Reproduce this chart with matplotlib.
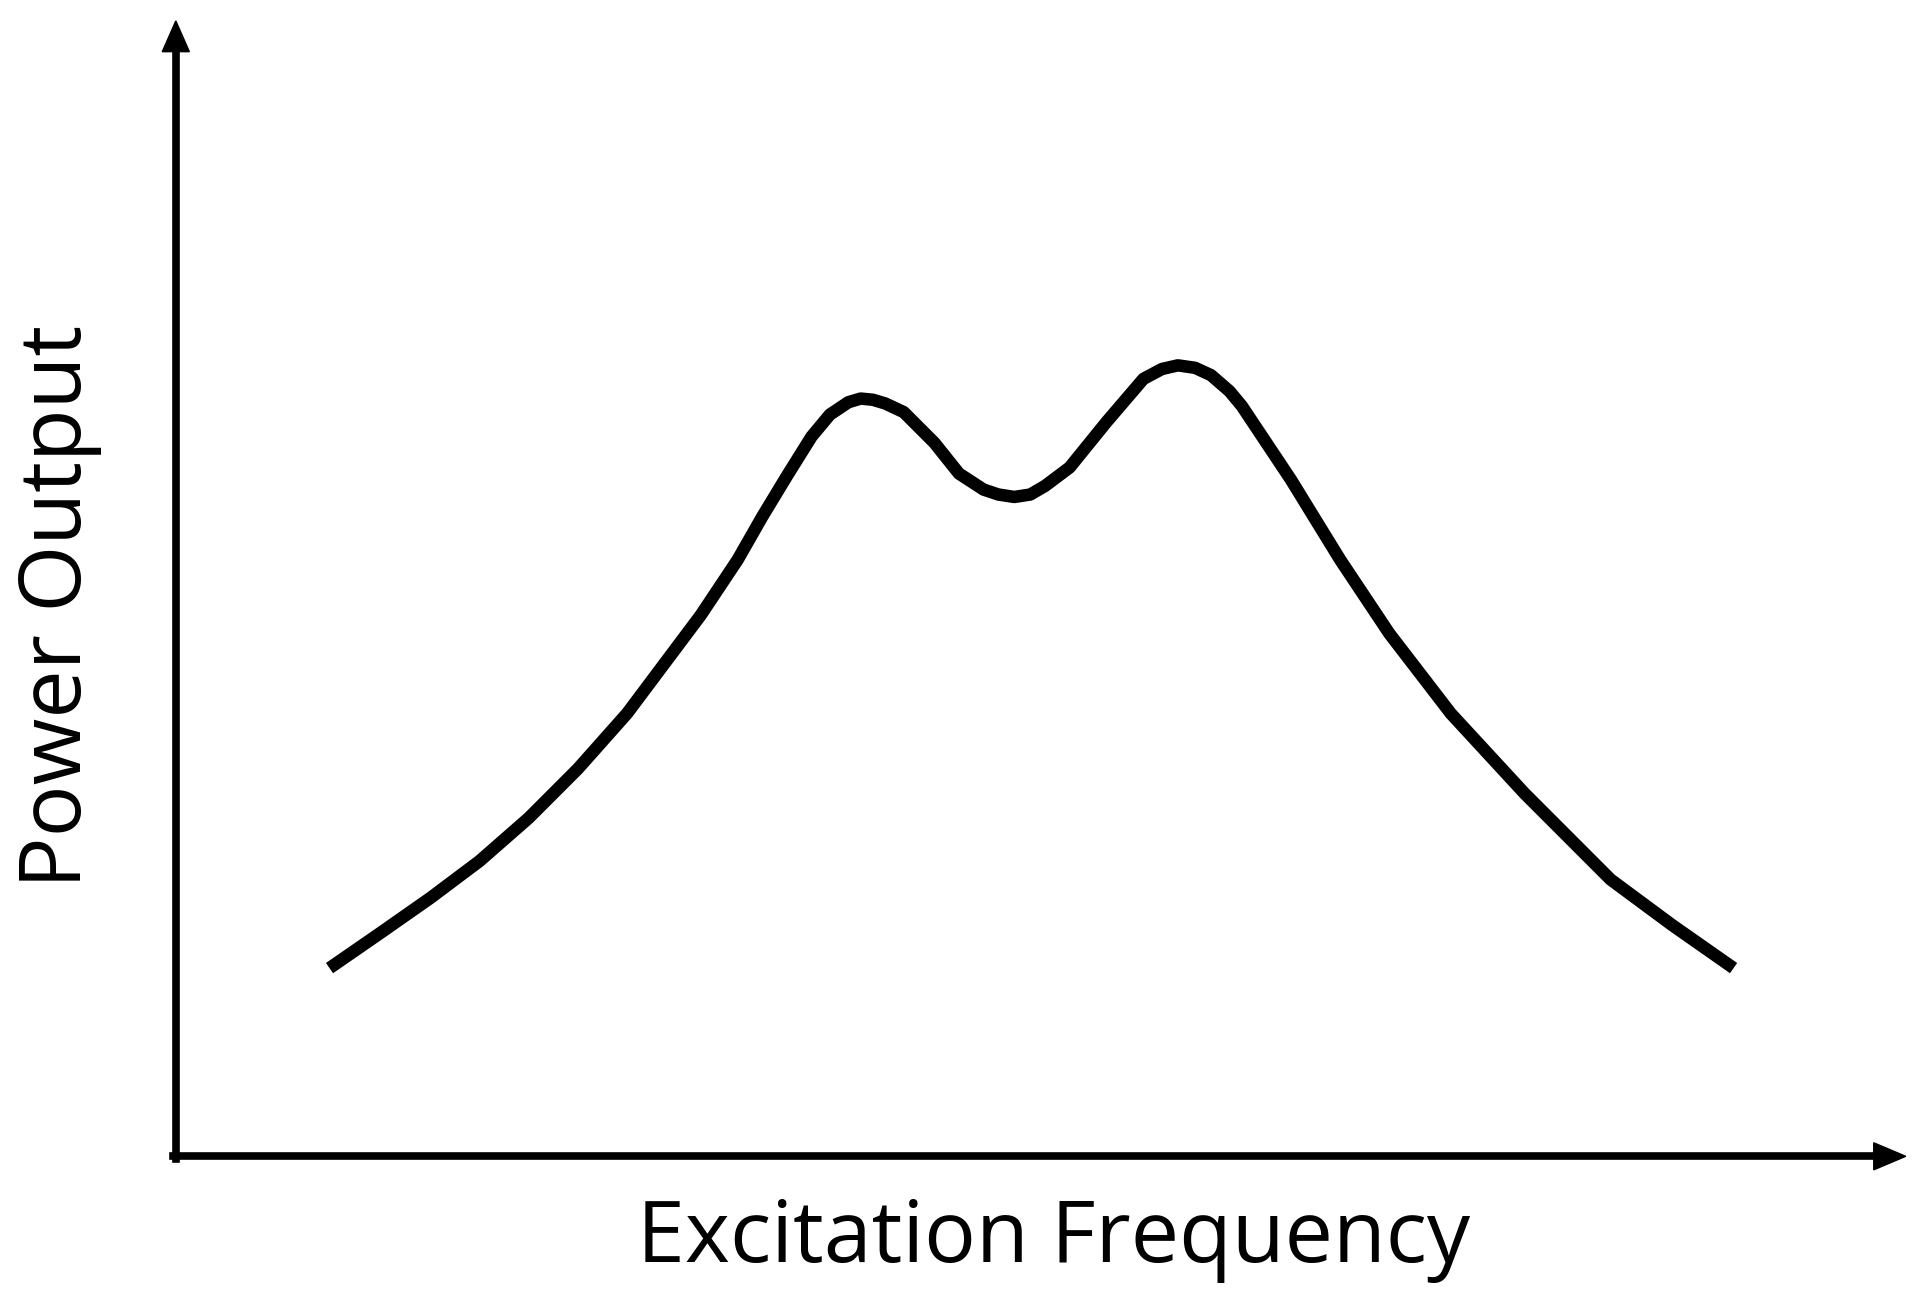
import matplotlib
matplotlib.use("Agg")
import matplotlib.pyplot as plt

# curve samples (frequency, power) in reference layout units
freq = [268, 310, 350, 390, 430, 470, 510, 540, 570, 600, 620, 640, 660, 675, 690, 700, 710,
        720, 735, 760, 780, 800, 812, 825, 838, 850, 870, 900, 930, 945, 958, 972, 985,
        1000, 1010, 1050, 1090, 1130, 1180, 1240, 1310, 1360, 1410]
power = [787, 758, 730, 700, 665, 625, 580, 540, 500, 455, 420, 387, 355, 337, 327, 324, 325,
         328, 335, 360, 385, 398, 402, 404, 402, 395, 380, 343, 308, 300, 297, 299, 305,
         318, 330, 390, 455, 515, 580, 645, 715, 752, 787]

W, H = 1560, 1056
fig = plt.figure(figsize=(19.18, 12.99), dpi=100)
ax = fig.add_axes([0, 0, 1, 1])
ax.set_xlim(0, W)
ax.set_ylim(H, 0)
ax.axis('off')

ax.plot(freq, power, color='black', lw=9, solid_capstyle='butt', solid_joinstyle='round')

# axes with arrows
ax.plot([143, 143], [942, 35], color='black', lw=5.5)
ax.plot([141, 1530], [940, 940], color='black', lw=5.5)
ax.fill([143, 132, 154], [17, 42, 42], color='black')
ax.fill([1550, 1524, 1524], [940, 929, 951], color='black')

ax.text(857, 1008, 'Excitation Frequency', ha='center', va='center',
        fontsize=62, family='Open Sans')
ax.text(48, 493, 'Power Output', ha='center', va='center', rotation=90,
        fontsize=62, family='Open Sans')

fig.savefig('out.png', dpi=100)
